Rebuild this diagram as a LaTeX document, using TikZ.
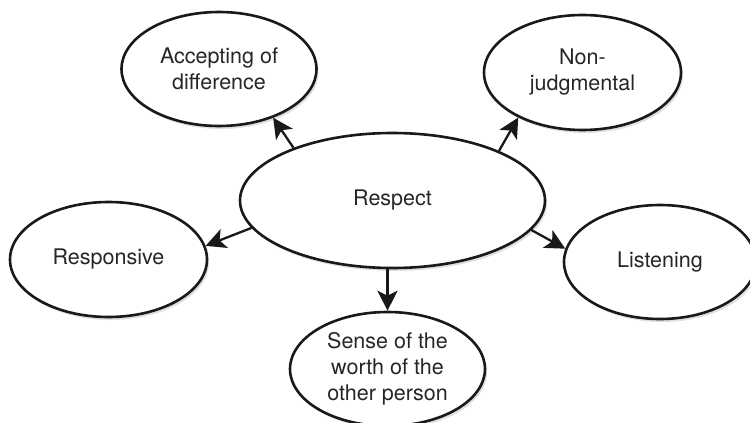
\documentclass[tikz,border=0pt]{standalone}
\usepackage{fontspec}
\setmainfont{TeX Gyre Heros}
\usetikzlibrary{shapes.geometric,arrows.meta,shadows}
\begin{document}
\begin{tikzpicture}[x=1pt,y=-1pt,
  bubble/.style={ellipse, draw=black!90, line width=2.6pt, fill=white, inner sep=0pt,
    align=center, text=black!85, font=\fontsize{21.5}{26}\selectfont,
    drop shadow={shadow xshift=2pt, shadow yshift=-3pt, opacity=0.25, fill=black!50}},
  link/.style={draw=black!90, line width=2.3pt, -{Stealth[length=20pt,width=20pt,inset=5pt]}}
]
\useasboundingbox (0,0) rectangle (750,423);
\node[bubble, minimum width=305pt, minimum height=135pt] (resp) at (392.5,200.5) {Respect};
\node[bubble, minimum width=195pt, minimum height=114pt] (acc) at (219,69) {Accepting of\\difference};
\node[bubble, minimum width=197pt, minimum height=115pt] (non) at (582.5,72.5) {Non-\\judgmental};
\node[bubble, minimum width=197pt, minimum height=115pt] (rsv) at (108.5,259.5) {Responsive};
\node[bubble, minimum width=192pt, minimum height=114pt] (lis) at (660,262) {Listening};
\node[bubble, minimum width=195pt, minimum height=114pt] (sen) at (387.5,369) {Sense of the\\worth of the\\other person};
\draw[link] (resp.152) -- (acc.-42);
\draw[link] (resp.25) -- (non.215);
\draw[link] (resp.191) -- (rsv.8);
\draw[link] (resp.-12) -- (lis.172);
\draw[link] (resp.south -| sen.north) -- (sen.north);
\end{tikzpicture}
\end{document}
